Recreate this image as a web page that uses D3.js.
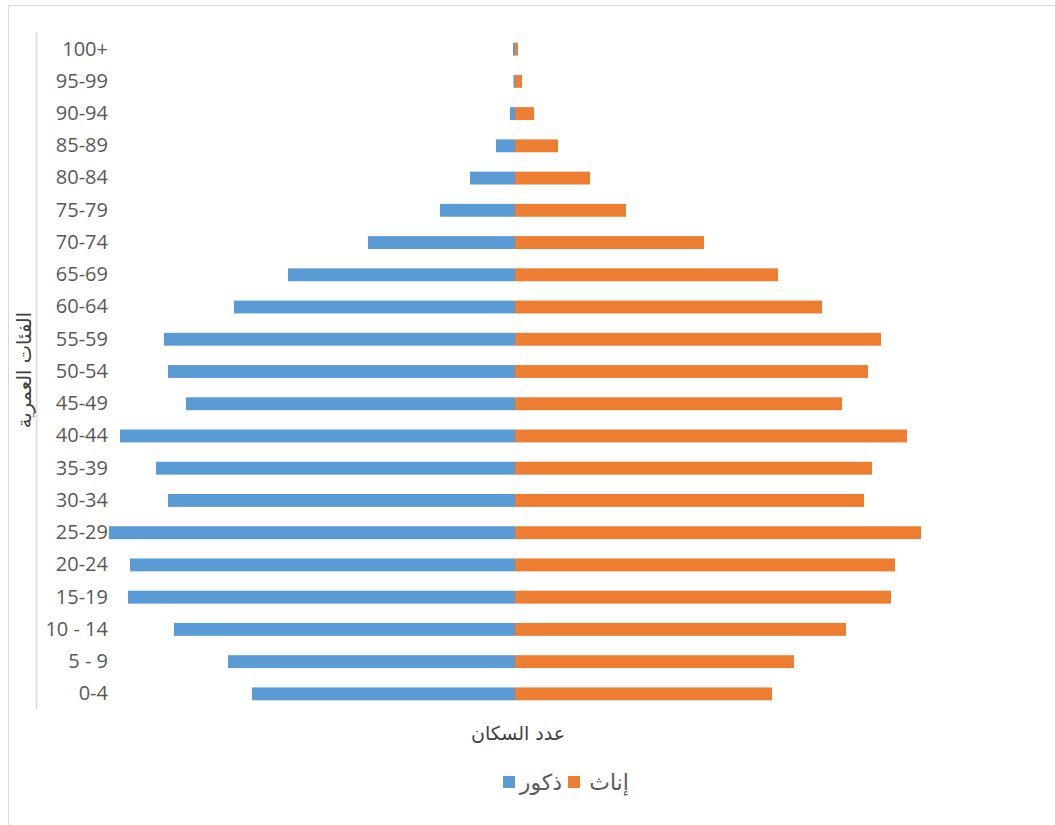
<!DOCTYPE html>
<html><head><meta charset="utf-8">
<script src="https://cdn.jsdelivr.net/npm/d3@7"></script>
<style>body{margin:0;background:#fff;} svg{display:block;font-family:"Open Sans","DejaVu Sans",sans-serif;}</style>
</head><body>
<svg id="c" width="1055" height="825"></svg>
<script>
const categories = ["100+","95-99","90-94","85-89","80-84","75-79","70-74","65-69","60-64","55-59","50-54","45-49","40-44","35-39","30-34","25-29","20-24","15-19","10 - 14","5 - 9","0-4"];
const males   = [2,1.5,5,19,45,75,147,227,281,351,347,329,395,359,347,406,385,387,341,287,263];
const females = [3,7,19,43,75,111,189,263,307,366,353,327,392,357,349,406,380,376,331,279,257];
const seriesNames = ["ذكور","إناث"];
const colors = ["#5B9BD5","#ED7D31"];
const xTitle = "عدد السكان";
const yTitle = "الفئات العمرية";

const svg = d3.select("#c");
svg.append("rect").attr("x",8.5).attr("y",5.5).attr("width",1060).attr("height",830)
  .attr("fill","#fff").attr("stroke","#d9d9d9");

const x = d3.scaleLinear().domain([-478,478]).range([37,993]);
const y = d3.scaleBand().domain(categories).range([33,710]).paddingInner(0.6).paddingOuter(0.3);

const gBars = svg.append("g");
gBars.selectAll("rect.m").data(categories).join("rect").attr("class","m")
  .attr("x",(d,i)=>x(-males[i])).attr("width",(d,i)=>x(0)-x(-males[i]))
  .attr("y",d=>y(d)).attr("height",y.bandwidth()).attr("fill",colors[0]);
gBars.selectAll("rect.f").data(categories).join("rect").attr("class","f")
  .attr("x",x(0)).attr("width",(d,i)=>x(females[i])-x(0))
  .attr("y",d=>y(d)).attr("height",y.bandwidth()).attr("fill",colors[1]);

const yAxis = d3.axisLeft(y).tickSize(0).tickPadding(0);
const ga = svg.append("g").attr("transform","translate(108,0)").call(yAxis);
ga.select(".domain").remove();
ga.selectAll("text").attr("font-size",20).attr("fill","#595959").attr("font-family","'Open Sans','DejaVu Sans',sans-serif");
svg.append("line").attr("x1",36.5).attr("x2",36.5).attr("y1",32).attr("y2",709).attr("stroke","#d9d9d9").attr("stroke-width",1.5);

svg.append("text").attr("x",518).attr("y",740).attr("text-anchor","middle")
  .attr("font-size",19).attr("fill","#404040").attr("font-family","'DejaVu Sans',sans-serif").text(xTitle);
svg.append("text").attr("transform","translate(31,370) rotate(-90)").attr("text-anchor","middle")
  .attr("font-size",19.5).attr("fill","#404040").attr("font-family","'DejaVu Sans',sans-serif").text(yTitle);

// legend
const leg = [{name:seriesNames[0],color:colors[0],sx:503,tx:541},{name:seriesNames[1],color:colors[1],sx:568,tx:609}];
leg.forEach(l=>{
  svg.append("rect").attr("x",l.sx).attr("y",776).attr("width",12).attr("height",12).attr("fill",l.color);
  svg.append("text").attr("x",l.tx).attr("y",790).attr("text-anchor","middle").attr("font-size",22)
    .attr("fill","#595959").attr("font-family","'DejaVu Sans',sans-serif").text(l.name);
});
</script>
</body></html>
